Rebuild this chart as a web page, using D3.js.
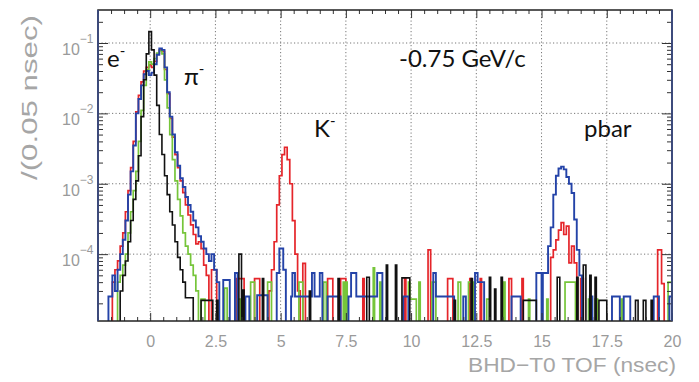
<!DOCTYPE html>
<html lang="en">
<head>
<meta charset="UTF-8">
<title>BHD-T0 TOF</title>
<script src="https://d3js.org/d3.v7.min.js"></script>
<style>
  body { margin: 0; background: #fff; }
</style>
</head>
<body>
<script>

// ---- axis ticks / labels
const xTicks = [0, 2.5, 5, 7.5, 10, 12.5, 15, 17.5, 20];
const xTickLabels = ["0", "2.5", "5", "7.5", "10", "12.5", "15", "17.5", "20"];
const xGrid = [0, 2.5, 5, 7.5, 10, 12.5, 15, 17.5];
const yDecades = [1e-1, 1e-2, 1e-3, 1e-4];
const yExponents = ["\u22121", "\u22122", "\u22123", "\u22124"];

// ---- histogram contents, peaks: [bin centre (0.1 ns wide), value]
const blackPeak = [
  [-1.1, 3e-5], [-1.0, 5e-5], [-0.9, 8e-5], [-0.8, 1.5e-4], [-0.7, 3e-4], [-0.6, 6e-4],
  [-0.5, 1.1e-3], [-0.4, 2.5e-3], [-0.3, 9e-3], [-0.2, 0.03], [-0.1, 0.07], [0.0, 0.145],
  [0.1, 0.08], [0.2, 0.035], [0.3, 0.013], [0.4, 5e-3], [0.5, 2.6e-3], [0.6, 1.3e-3],
  [0.7, 7e-4], [0.8, 4e-4], [0.9, 2.6e-4], [1.0, 1.5e-4], [1.1, 9e-5], [1.2, 6e-5],
  [1.3, 4e-5], [1.4, 2.4e-5], [1.5, 2.4e-5], [1.6, 2.4e-5]
];
const bluePeak = [
  [-1.4, 5e-5], [-1.3, 3e-5], [-1.2, 6e-5], [-1.1, 1e-4], [-1.0, 1.6e-4], [-0.9, 3e-4],
  [-0.8, 7e-4], [-0.7, 1.5e-3], [-0.6, 3.5e-3], [-0.5, 0.01], [-0.4, 0.016], [-0.3, 0.025],
  [-0.2, 0.036], [-0.1, 0.04], [0.0, 0.035], [0.1, 0.038], [0.2, 0.05], [0.3, 0.068],
  [0.4, 0.084], [0.5, 0.08], [0.6, 0.045], [0.7, 0.02], [0.8, 9e-3], [0.9, 5e-3],
  [1.0, 2.8e-3], [1.1, 1.8e-3], [1.2, 1.2e-3], [1.3, 9e-4], [1.4, 6.5e-4], [1.5, 5e-4],
  [1.6, 4e-4], [1.7, 3e-4], [1.8, 2.4e-4], [1.9, 1.8e-4], [2.0, 1.5e-4], [2.1, 1.2e-4],
  [2.2, 1e-4], [2.3, 8e-5], [2.4, 1e-4], [2.5, 6e-5], [2.6, 4e-5],
  // pbar
  [15.1, 5.4e-5], [15.2, 5.4e-5], [15.3, 1.3e-4], [15.4, 2.4e-4], [15.5, 7e-4], [15.6, 1.3e-3],
  [15.7, 1.65e-3], [15.8, 1.75e-3], [15.9, 1.6e-3], [16.0, 1.25e-3], [16.1, 1e-3], [16.2, 7.4e-4],
  [16.3, 3.1e-4], [16.4, 1.15e-4], [16.5, 5e-5]
];
const redPeak = [
  [-1.4, 4e-5], [-1.3, 6e-5], [-1.2, 8e-5], [-1.1, 1.3e-4], [-1.0, 2e-4], [-0.9, 4e-4],
  [-0.8, 8e-4], [-0.7, 1.7e-3], [-0.6, 4e-3], [-0.5, 0.0105], [-0.4, 0.018], [-0.3, 0.028],
  [-0.2, 0.04], [-0.1, 0.045], [0.0, 0.049], [0.1, 0.045], [0.2, 0.055], [0.3, 0.07],
  [0.4, 0.08], [0.5, 0.076], [0.6, 0.042], [0.7, 0.019], [0.8, 8.5e-3], [0.9, 4.6e-3],
  [1.0, 2.6e-3], [1.1, 1.7e-3], [1.2, 1.1e-3], [1.3, 7.5e-4], [1.4, 5e-4], [1.5, 3.6e-4],
  [1.6, 2.6e-4], [1.7, 1.9e-4], [1.8, 1.4e-4], [1.9, 1.5e-4], [2.0, 1.2e-4], [2.1, 7e-5],
  [2.2, 5e-5], [2.4, 6e-5], [2.5, 6e-5],
  // K-
  [4.6, 3e-5], [4.7, 6e-5], [4.8, 1.5e-4], [4.9, 5e-4], [5.0, 1.3e-3], [5.1, 2.6e-3],
  [5.2, 3.3e-3], [5.3, 2.2e-3], [5.4, 1e-3], [5.5, 3e-4], [5.6, 1e-4], [5.7, 3e-5],
  // pbar
  [15.4, 9e-5], [15.5, 1.15e-4], [15.6, 1.6e-4], [15.7, 2.2e-4], [15.8, 2.8e-4], [15.9, 1.9e-4],
  [16.0, 2.5e-4], [16.1, 7.5e-5], [16.2, 1.3e-4], [16.3, 7.5e-5]
];
const greenPeak = [
  [-1.2, 4e-5], [-1.1, 5e-5], [-1.0, 7e-5], [-0.9, 1e-4], [-0.8, 2e-4], [-0.7, 4e-4],
  [-0.6, 8e-4], [-0.5, 1.5e-3], [-0.4, 4e-3], [-0.3, 0.011], [-0.2, 0.025], [-0.1, 0.042],
  [0.0, 0.054], [0.1, 0.05], [0.2, 0.06], [0.3, 0.072], [0.4, 0.078], [0.5, 0.07],
  [0.6, 0.03], [0.7, 0.012], [0.8, 5e-3], [0.9, 2.2e-3], [1.0, 1.1e-3], [1.1, 6e-4],
  [1.2, 3.5e-4], [1.3, 2e-4], [1.4, 1.3e-4], [1.5, 1e-4], [1.6, 7e-5], [1.7, 5e-5], [1.8, 3e-5]
];

// ---- sparse background bins: [from, to, value]
const blackNoise = [
  [1.95, 2.4, 2.2e-5], [2.55, 2.6, 2.2e-5], [3.4, 3.5, 1e-4], [3.55, 3.6, 3.1e-5], [4.3, 4.35, 4.5e-5],
  [6.1, 6.15, 3e-5], [7.2, 7.25, 4.5e-5], [8.3, 8.4, 4.7e-5], [9.05, 9.1, 7e-5], [9.4, 9.45, 7e-5],
  [9.65, 9.95, 4.6e-5], [11.65, 11.7, 2.2e-5], [12.3, 12.35, 4.5e-5], [13.0, 13.05, 4.7e-5],
  [13.2, 13.25, 3.2e-5], [13.45, 13.5, 4.7e-5], [14.3, 14.8, 2.2e-5], [15.6, 15.7, 4.7e-5],
  [16.35, 16.4, 4.7e-5], [16.6, 16.7, 7e-5], [16.85, 16.9, 5e-5], [17.05, 17.1, 4.7e-5],
  [17.2, 17.5, 2.2e-5], [18.6, 18.7, 2.2e-5], [18.9, 19.0, 2.2e-5], [19.2, 19.25, 2.2e-5]
];
const blueNoise = [
  [-1.6, -1.45, 2.5e-5], [2.8, 3.05, 4.3e-5], [3.25, 3.35, 5.4e-5], [3.65, 3.8, 2.5e-5],
  [4.1, 4.5, 2.6e-5], [4.85, 4.95, 5.4e-5], [4.95, 5.1, 1.2e-4], [5.1, 5.2, 6e-5],
  [5.4, 5.45, 2.5e-5], [5.45, 5.55, 5.4e-5], [5.55, 6.2, 2.5e-5], [6.2, 6.3, 5.4e-5],
  [6.3, 6.5, 2.5e-5], [6.5, 6.6, 5.4e-5], [6.8, 7.3, 2.5e-5], [7.6, 7.7, 2.5e-5],
  [7.7, 7.9, 5.4e-5], [7.9, 8.7, 2.5e-5], [8.7, 8.9, 5.4e-5], [9.7, 9.9, 2.5e-5],
  [10.85, 10.95, 5.4e-5], [10.95, 11.65, 2.5e-5], [12.0, 12.1, 2.5e-5], [12.45, 12.55, 5.4e-5],
  [12.55, 12.8, 4e-5], [13.85, 14.2, 2.5e-5], [14.8, 15.0, 5.4e-5], [16.85, 16.95, 2.5e-5],
  [17.7, 18.0, 2.5e-5], [18.15, 18.4, 2.5e-5], [19.3, 19.5, 2.5e-5], [19.9, 20.0, 2.5e-5]
];
const redNoise = [
  [3.3, 3.6, 4.5e-5], [4.0, 4.2, 4.5e-5], [5.85, 5.95, 7.4e-5], [6.8, 7.0, 4.5e-5],
  [7.3, 7.5, 4.5e-5], [8.15, 8.2, 4.5e-5], [9.75, 9.8, 4.5e-5], [10.65, 10.75, 1.15e-4],
  [11.4, 11.6, 4.5e-5], [12.25, 12.3, 4.5e-5], [12.65, 12.7, 4.5e-5], [13.75, 13.85, 4.5e-5],
  [14.25, 14.3, 4.5e-5], [16.5, 16.6, 4.5e-5], [19.45, 19.6, 1.15e-4], [19.6, 19.7, 3.8e-5]
];
const greenNoise = [
  [1.95, 2.1, 2.3e-5], [2.85, 2.95, 3.3e-5], [3.35, 3.45, 2.3e-5], [3.85, 4.0, 4e-5],
  [4.5, 4.65, 4e-5], [5.7, 5.85, 4e-5], [6.65, 6.75, 4e-5], [7.4, 7.45, 4e-5], [7.5, 7.55, 4e-5],
  [8.55, 8.6, 6.4e-5], [8.8, 8.85, 4e-5], [9.9, 9.95, 4e-5], [9.95, 10.2, 2.3e-5],
  [10.3, 10.35, 4e-5], [10.8, 10.95, 4e-5], [11.8, 11.9, 4e-5], [12.2, 12.4, 4e-5],
  [12.9, 13.0, 2.3e-5], [13.55, 13.6, 4e-5], [14.5, 14.55, 2.3e-5], [15.2, 15.25, 2.3e-5],
  [15.9, 16.3, 4e-5], [16.8, 16.9, 2.3e-5], [17.05, 17.15, 2.3e-5], [18.05, 18.1, 2.3e-5],
  [19.85, 20.0, 4e-5]
];

const W = 699, H = 382;
const F = {left: 98, right: 672, top: 10, bottom: 321};

const x = d3.scaleLinear().domain([-2, 20]).range([F.left, F.right]);
const y = d3.scaleLog().domain([Math.pow(10, -4.95), Math.pow(10, -0.531)]).range([F.bottom, F.top]);

const svg = d3.select("body").append("svg")
    .attr("width", W).attr("height", H)
    .style("font-family", "'Liberation Sans', Arial, sans-serif");

// grid
svg.append("g").selectAll("line").data(xGrid).join("line")
    .attr("x1", d => x(d)).attr("x2", d => x(d))
    .attr("y1", F.top).attr("y2", F.bottom)
    .attr("stroke", "#777").attr("stroke-dasharray", "1.2,2.3");
svg.append("g").selectAll("line").data(yDecades).join("line")
    .attr("x1", F.left).attr("x2", F.right)
    .attr("y1", d => y(d)).attr("y2", d => y(d))
    .attr("stroke", "#777").attr("stroke-dasharray", "1.2,2.3");

// histograms
function histPath(peak, noise) {
    const segs = peak.map(([c, v]) => [c - 0.05, c + 0.05, v]).concat(noise)
        .sort((a, b) => a[0] - b[0]);
    let p = "", prevEnd = null;
    segs.forEach(([a, b, v]) => {
        const yv = y(v);
        if (prevEnd !== null && Math.abs(a - prevEnd) < 1e-6) {
            p += `V${yv}H${x(b)}`;
        } else {
            if (prevEnd !== null) p += `V${F.bottom}`;
            p += `M${x(a)},${F.bottom}V${yv}H${x(b)}`;
        }
        prevEnd = b;
    });
    if (prevEnd !== null) p += `V${F.bottom}`;
    return p;
}

const series = [
    {peak: redPeak, noise: redNoise, color: "#e5252a", w: 1.7},
    {peak: greenPeak, noise: greenNoise, color: "#76c53a", w: 1.7},
    {peak: bluePeak, noise: blueNoise, color: "#2443a8", w: 1.9},
    {peak: blackPeak, noise: blackNoise, color: "#111", w: 1.6}
];

svg.append("defs").append("clipPath").attr("id", "plot")
    .append("rect").attr("x", F.left).attr("y", F.top)
    .attr("width", F.right - F.left).attr("height", F.bottom - F.top);

svg.append("g").attr("clip-path", "url(#plot)")
    .selectAll("path").data(series).join("path")
    .attr("d", d => histPath(d.peak, d.noise))
    .attr("fill", "none")
    .attr("stroke", d => d.color)
    .attr("stroke-width", d => d.w);

// axes (ticks inward)
const xMinor = d3.range(-2, 20.01, 0.5).filter(v => Math.abs(v / 2.5 - Math.round(v / 2.5)) > 1e-6);
const yMinor = [];
for (let e = -5; e <= -1; e++) for (let k = 2; k <= 9; k++) {
    const v = k * Math.pow(10, e);
    if (v > y.domain()[0] && v < y.domain()[1]) yMinor.push(v);
}

function axisStyle(g) {
    g.select(".domain").remove();
    g.selectAll(".tick line").attr("stroke", "#333").attr("stroke-width", 1);
}

svg.append("g").attr("transform", `translate(0,${F.bottom})`)
    .call(d3.axisBottom(x).tickValues(xTicks).tickSize(-8).tickPadding(15)
        .tickFormat((d, i) => xTickLabels[i]))
    .call(axisStyle)
    .call(g => g.selectAll("text").attr("font-size", 16).attr("fill", "#9a9a9a")
        .attr("font-family", "'Liberation Sans', Arial, sans-serif"));
svg.append("g").attr("transform", `translate(0,${F.bottom})`)
    .call(d3.axisBottom(x).tickValues(xMinor).tickSize(-4).tickFormat(""))
    .call(axisStyle);
svg.append("g").attr("transform", `translate(0,${F.top})`)
    .call(d3.axisTop(x).tickValues(xTicks).tickSize(-8).tickFormat(""))
    .call(axisStyle);
svg.append("g").attr("transform", `translate(0,${F.top})`)
    .call(d3.axisTop(x).tickValues(xMinor).tickSize(-4).tickFormat(""))
    .call(axisStyle);

svg.append("g").attr("transform", `translate(${F.left},0)`)
    .call(d3.axisLeft(y).tickValues(yDecades).tickSize(-10).tickFormat(""))
    .call(axisStyle);
svg.append("g").attr("transform", `translate(${F.left},0)`)
    .call(d3.axisLeft(y).tickValues(yMinor).tickSize(-5).tickFormat(""))
    .call(axisStyle);
svg.append("g").attr("transform", `translate(${F.right},0)`)
    .call(d3.axisRight(y).tickValues(yDecades).tickSize(-10).tickFormat(""))
    .call(axisStyle);
svg.append("g").attr("transform", `translate(${F.right},0)`)
    .call(d3.axisRight(y).tickValues(yMinor).tickSize(-5).tickFormat(""))
    .call(axisStyle);

// y labels 10^-n
const yl = svg.append("g").selectAll("text").data(yDecades).join("text")
    .attr("x", 62).attr("y", d => y(d) + 12)
    .attr("fill", "#9a9a9a").attr("font-size", 16);
yl.append("tspan").text("10");
yl.append("tspan").attr("dy", -12).attr("font-size", 12).text((d, i) => yExponents[i]);

// frame
svg.append("rect")
    .attr("x", F.left).attr("y", F.top)
    .attr("width", F.right - F.left).attr("height", F.bottom - F.top)
    .attr("fill", "none").attr("stroke", "#222").attr("stroke-width", 1.5);
svg.append("g").selectAll("line").data([F.left, F.right]).join("line")
    .attr("x1", d => d).attr("x2", d => d).attr("y1", F.top).attr("y2", F.bottom)
    .attr("stroke", "#3a4a80").attr("stroke-width", 1.8);

// axis titles
svg.append("text")
    .attr("x", 676).attr("y", 372).attr("text-anchor", "end")
    .attr("font-size", 21).attr("fill", "#a6a6a6")
    .attr("textLength", 208).attr("lengthAdjust", "spacingAndGlyphs")
    .text("BHD\u2212T0 TOF (nsec)");
svg.append("text")
    .attr("transform", "translate(37,15) rotate(-90)")
    .attr("text-anchor", "end")
    .attr("font-size", 22).attr("fill", "#a6a6a6")
    .attr("textLength", 165).attr("lengthAdjust", "spacingAndGlyphs")
    .text("/(0.05 nsec)");

// annotations
const ann = svg.append("g").attr("font-family", "Lato, 'Open Sans', sans-serif").attr("fill", "#111");
function label(px, py, main, sup) {
    const t = ann.append("text").attr("x", px).attr("y", py).attr("font-size", 24);
    t.append("tspan").text(main);
    if (sup) t.append("tspan").attr("dy", -11).attr("font-size", 15).text(sup);
}
label(107, 67, "e", "-");
label(184, 85, "\u03c0", "-");
label(314, 137, "K", "-");
label(584, 137, "pbar");
label(399, 67, "-0.75 GeV/c");

</script>
</body>
</html>
